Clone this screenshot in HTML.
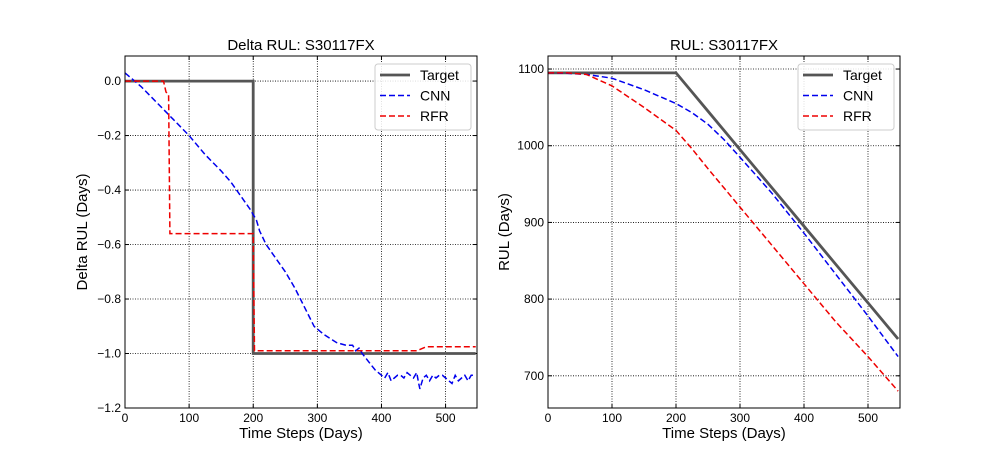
<!DOCTYPE html>
<html><head><meta charset="utf-8"><style>
body{margin:0;background:#fff}
svg{font-family:"Liberation Sans",sans-serif}
</style></head><body>
<svg id="s" width="1000" height="467" xmlns="http://www.w3.org/2000/svg"></svg>
<script>
const xTicks=[0,100,200,300,400,500];
const dTicks=[0,-0.2,-0.4,-0.6,-0.8,-1.0,-1.2];
const rTicks=[700,800,900,1000,1100];
const dTargetX=[0,200,200,547], dTargetY=[0,0,-1,-1];
const dCnnX=[0,25,50,75,100,125,150,165,180,195,200,205,210,220,235,250,265,280,295,310,330,345,355,360,365,370,380,390,400,405,410,415,420,425,430,435,440,445,450,455,458,460,465,470,475,480,485,490,495,500,505,510,515,520,525,530,535,540,547];
const dCnnY=[0.03,-0.02,-0.08,-0.14,-0.2,-0.27,-0.33,-0.37,-0.42,-0.47,-0.49,-0.51,-0.55,-0.6,-0.65,-0.7,-0.76,-0.83,-0.9,-0.93,-0.96,-0.97,-0.97,-0.99,-0.98,-1.0,-1.03,-1.06,-1.08,-1.09,-1.07,-1.1,-1.09,-1.08,-1.08,-1.09,-1.07,-1.08,-1.09,-1.07,-1.11,-1.13,-1.09,-1.08,-1.1,-1.08,-1.09,-1.08,-1.08,-1.09,-1.1,-1.11,-1.08,-1.1,-1.09,-1.08,-1.1,-1.08,-1.08];
const dRfrX=[0,60,64,68,70,100,150,200,201,202,300,400,455,470,547];
const dRfrY=[0,0,-0.04,-0.05,-0.56,-0.56,-0.56,-0.56,-0.8,-0.99,-0.99,-0.99,-0.99,-0.975,-0.975];
const rX=[0,30,60,100,150,200,225,250,275,300,350,400,450,500,547];
const rTarget=[1095,1095,1095,1095,1095,1095,1070,1045,1020,995,945,895,845,795,748];
const rCnn=[1095,1094.5,1093,1088,1073,1055,1043,1028,1008,985,938,886,832,778,725];
const rRfr=[1095,1095,1093,1078,1050,1020,996,970,945,920,870,820,770,725,680];
const NS="http://www.w3.org/2000/svg",svg=document.getElementById('s');
function el(t,a,p){const e=document.createElementNS(NS,t);for(const k in a)e.setAttribute(k,a[k]);(p||svg).appendChild(e);return e;}
function txt(x,y,s,sz,anch,p,rot){const t=el('text',{x:x,y:y,'font-size':sz,'text-anchor':anch||'middle',fill:'#000'},p);if(rot)t.setAttribute('transform',`rotate(-90 ${x} ${y})`);t.textContent=s;return t;}
function panel(o){
 const g=el('g',{});
 
 
 const L=o.L,R=o.R,T=56,B=408;
 const sx=v=>L+(v-0)*(R-L)/(o.xmax), sy=v=>B-(v-o.ymin)*(B-T)/(o.ymax-o.ymin);
 xTicks.forEach(v=>{const x=sx(v);
  el('line',{x1:x,x2:x,y1:T,y2:B,stroke:'#000','stroke-width':0.8,'stroke-dasharray':'1,1.5'},g);
  el('line',{x1:x,x2:x,y1:B,y2:B-4,stroke:'#000'},g);el('line',{x1:x,x2:x,y1:T,y2:T+4,stroke:'#000'},g);
  const t=txt(x,B+14,String(v),12,'middle',g);});
 o.yt.forEach(v=>{const y=sy(v);
  el('line',{x1:L,x2:R,y1:y,y2:y,stroke:'#000','stroke-width':0.8,'stroke-dasharray':'1,1.5'},g);
  el('line',{x1:L,x2:L+4,y1:y,y2:y,stroke:'#000'},g);el('line',{x1:R,x2:R-4,y1:y,y2:y,stroke:'#000'},g);
  const t=txt(L-4,y+4,o.fmt(v),12,'end',g);});
 const series=[[o.tx,o.ty,'#555',2.8,null,'target-line'],[o.cx,o.cy,'#0000ee',1.5,'6,3','cnn-line'],[o.fx,o.fy,'#ee0000',1.5,'6,3','rfr-line']];
 series.forEach(s=>{const d=s[0].map((x,i)=>(i?'L':'M')+sx(x).toFixed(1)+','+sy(s[1][i]).toFixed(1)).join('');
  const p=el('path',{d:d,fill:'none',stroke:s[2],'stroke-width':s[3]},g);if(s[4])p.setAttribute('stroke-dasharray',s[4]);
  });
 el('rect',{x:L,y:T,width:R-L,height:B-T,fill:'none',stroke:'#000','stroke-width':1},g);
 const tt=txt((L+R)/2,50,o.title,15,'middle',g);
 const xl=txt((L+R)/2,438,'Time Steps (Days)',15,'middle',g);
 const yl=txt(o.ylx,232,o.ylabel,15,'middle',g,true);
 const lg=el('g',{},g);
 const lx=o.lgx;
 el('rect',{x:lx,y:64,width:96,height:66,rx:3,fill:'#fff','fill-opacity':0.85,stroke:'#ccc'},lg);
 [['Target','#555',2.8,null],['CNN','#0000ee',1.5,'6,3'],['RFR','#ee0000',1.5,'6,3']].forEach((e,i)=>{const y=75+i*20.5;
  const l=el('line',{x1:lx+5,x2:lx+35,y1:y,y2:y,stroke:e[1],'stroke-width':e[2]},lg);if(e[3])l.setAttribute('stroke-dasharray',e[3]);
  const t=txt(lx+45,y+5,e[0],14,'start',lg);});
}
panel({name:'delta-rul-chart',L:125,R:477,xmax:549,ymin:-1.2,ymax:0.092,yt:dTicks,fmt:v=>v.toFixed(1).replace('-','\u2212'),
 tx:dTargetX,ty:dTargetY,cx:dCnnX,cy:dCnnY,fx:dRfrX,fy:dRfrY,title:'Delta RUL: S30117FX',ylabel:'Delta RUL (Days)',ylx:87,lgx:375});
panel({name:'rul-chart',L:548,R:900,xmax:550,ymin:658,ymax:1117,yt:rTicks,fmt:v=>String(v),
 tx:rX,ty:rTarget,cx:rX,cy:rCnn,fx:rX,fy:rRfr,title:'RUL: S30117FX',ylabel:'RUL (Days)',ylx:509,lgx:798});
</script>
</body></html>
